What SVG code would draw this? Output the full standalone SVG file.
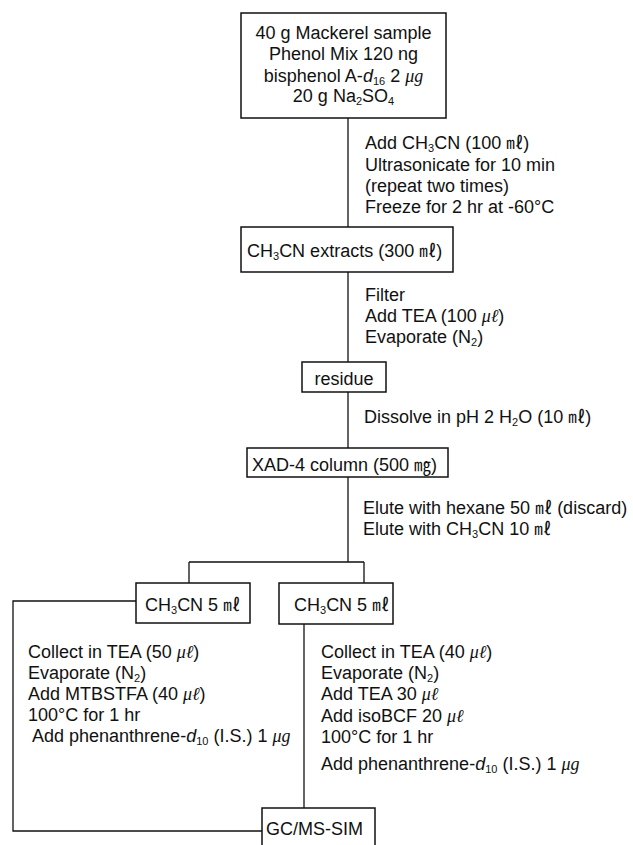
<svg xmlns="http://www.w3.org/2000/svg" width="633" height="845" viewBox="0 0 633 845">
<style>
.t{font-family:"Liberation Sans",Arial,sans-serif;font-size:18px;fill:#111}
.c{text-anchor:middle}
.u{font-family:"Noto Sans CJK JP","Noto Sans CJK KR",sans-serif;font-size:17px}
.mu{font-family:"Liberation Serif","DejaVu Serif",serif;font-style:italic}
.it{font-style:italic}
.s{font-size:11px}
.box{fill:#fff;stroke:#111;stroke-width:1.5}
.ln{fill:none;stroke:#111;stroke-width:1.3}
</style>
<rect width="633" height="845" fill="#fff"/>
<g id="connectors">
<path class="ln" d="M348,118 V227 M348,272 V362 M348,392 V448 M348,477 V562 M189,562 H364 M189,562 V583 M364,562 V583"/>
<path class="ln" d="M136,601 H13 V831 H262"/>
<path class="ln" d="M304,624 V808"/>
</g>
<g id="step1" class="t">
<text x="365" y="149">Add CH<tspan class="s" dy="3">3</tspan><tspan dy="-3">CN (100 </tspan><tspan class="u">㎖</tspan>)</text>
<text x="365" y="170.5">Ultrasonicate for 10 min</text>
<text x="365" y="191.5">(repeat two times)</text>
<text x="365" y="212.5">Freeze for 2 hr at -60°C</text>
</g>
<g id="step2" class="t">
<text x="365" y="300.5">Filter</text>
<text x="365" y="322">Add TEA (100 <tspan class="mu">μℓ</tspan>)</text>
<text x="365" y="343">Evaporate (N<tspan class="s" dy="3">2</tspan><tspan dy="-3">)</tspan></text>
</g>
<g id="step3" class="t">
<text x="364" y="423">Dissolve in pH 2 H<tspan class="s" dy="3">2</tspan><tspan dy="-3">O (10 </tspan><tspan class="u">㎖</tspan>)</text>
</g>
<g id="step4" class="t">
<text x="363" y="514">Elute with hexane 50 <tspan class="u">㎖</tspan> (discard)</text>
<text x="363" y="535">Elute with CH<tspan class="s" dy="3">3</tspan><tspan dy="-3">CN 10 </tspan><tspan class="u">㎖</tspan></text>
</g>
<g id="step5a" class="t">
<text x="28" y="658">Collect in TEA (50 <tspan class="mu">μℓ</tspan>)</text>
<text x="28" y="679">Evaporate (N<tspan class="s" dy="3">2</tspan><tspan dy="-3">)</tspan></text>
<text x="28" y="700">Add MTBSTFA (40 <tspan class="mu">μℓ</tspan>)</text>
<text x="28" y="721">100°C for 1 hr</text>
<text x="32" y="742">Add phenanthrene-<tspan class="it">d</tspan><tspan class="s" dy="3">10</tspan><tspan dy="-3"> (I.S.) 1 </tspan><tspan class="mu">μ</tspan><tspan class="mu" font-style="normal">g</tspan></text>
</g>
<g id="step5b" class="t">
<text x="321" y="658">Collect in TEA (40 <tspan class="mu">μℓ</tspan>)</text>
<text x="321" y="679">Evaporate (N<tspan class="s" dy="3">2</tspan><tspan dy="-3">)</tspan></text>
<text x="321" y="700">Add TEA 30 <tspan class="mu">μℓ</tspan></text>
<text x="321" y="722">Add isoBCF 20 <tspan class="mu">μℓ</tspan></text>
<text x="321" y="743">100°C for 1 hr</text>
<text x="321" y="770">Add phenanthrene-<tspan class="it">d</tspan><tspan class="s" dy="3">10</tspan><tspan dy="-3"> (I.S.) 1 </tspan><tspan class="mu">μ</tspan><tspan class="mu" font-style="normal">g</tspan></text>
</g>
<g id="sample">
<rect class="box" x="241" y="13" width="205" height="105"/>
<text class="t c" x="343.5" y="39">40 g Mackerel sample</text>
<text class="t c" x="343.5" y="60">Phenol Mix 120 ng</text>
<text class="t c" x="343.5" y="81.5">bisphenol A-<tspan class="it">d</tspan><tspan class="s" dy="3">16</tspan><tspan dy="-3"> 2 </tspan><tspan class="mu">μ</tspan><tspan class="mu" font-style="normal">g</tspan></text>
<text class="t c" x="343.5" y="102">20 g Na<tspan class="s" dy="3">2</tspan><tspan dy="-3">SO</tspan><tspan class="s" dy="3">4</tspan></text>
</g>
<g id="extracts">
<rect class="box" x="241" y="227" width="212" height="45"/>
<text class="t" x="247" y="256.5">CH<tspan class="s" dy="3">3</tspan><tspan dy="-3">CN extracts (300 </tspan><tspan class="u">㎖</tspan>)</text>
</g>
<g id="residue">
<rect class="box" x="302" y="362" width="84" height="30"/>
<text class="t c" x="344" y="385">residue</text>
</g>
<g id="xad4">
<rect class="box" x="247" y="448" width="201" height="29"/>
<text class="t" x="252" y="470.5">XAD-4 column (500 <tspan class="u">㎎</tspan>)</text>
</g>
<g id="fraction1">
<rect class="box" x="136" y="583" width="114" height="40"/>
<text class="t" x="145" y="611">CH<tspan class="s" dy="3">3</tspan><tspan dy="-3">CN 5 </tspan><tspan class="u">㎖</tspan></text>
</g>
<g id="fraction2">
<rect class="box" x="279" y="583" width="114" height="41"/>
<text class="t" x="294" y="611">CH<tspan class="s" dy="3">3</tspan><tspan dy="-3">CN 5 </tspan><tspan class="u">㎖</tspan></text>
</g>
<g id="gcms">
<rect class="box" x="262" y="808" width="113" height="45"/>
<text class="t" x="266" y="835">GC/MS-SIM</text>
</g>
</svg>
